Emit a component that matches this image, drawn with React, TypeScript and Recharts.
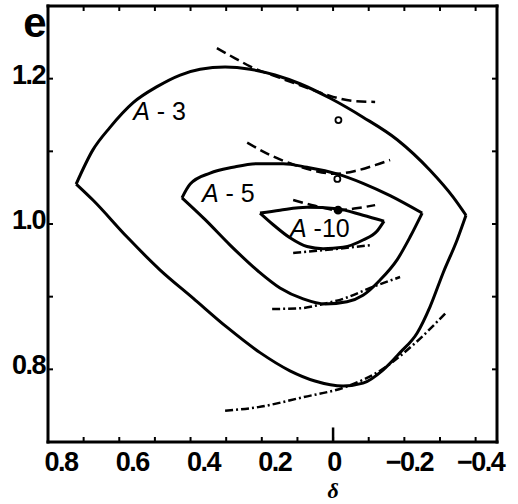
import { ComposedChart, Line, Scatter, XAxis, YAxis, ReferenceLine, Label } from 'recharts'

type Pt = [number, number]

// axis ranges and ticks (delta runs right-to-left)
const xMin = -0.46
const xMax = 0.8
const yMin = 0.7
const yMax = 1.3
const xTicks = [0.8, 0.7, 0.6, 0.5, 0.4, 0.3, 0.2, 0.1, 0, -0.1, -0.2, -0.3, -0.4]
const xLabels = [0.8, 0.6, 0.4, 0.2, 0, -0.2, -0.4]
const yTicks = [0.8, 0.9, 1.0, 1.1, 1.2]
const yLabels = [0.8, 1.0, 1.2]

// closed contours, split into upper and lower arcs: [delta, e]
const a3Upper: Pt[] = [
  [0.721, 1.055], [0.674, 1.102], [0.626, 1.133], [0.561, 1.167], [0.494, 1.189],
  [0.429, 1.205], [0.373, 1.213], [0.303, 1.216], [0.233, 1.213], [0.163, 1.205],
  [0.093, 1.193], [0.008, 1.173], [-0.084, 1.147], [-0.18, 1.116], [-0.272, 1.074],
  [-0.337, 1.037], [-0.373, 1.012],
]
const a3Lower: Pt[] = [
  [0.721, 1.055], [0.674, 1.033], [0.578, 0.982], [0.486, 0.937], [0.393, 0.898],
  [0.298, 0.858], [0.205, 0.823], [0.121, 0.798], [0.051, 0.784], [-0.028, 0.777],
  [-0.084, 0.781], [-0.14, 0.799], [-0.188, 0.823], [-0.236, 0.85], [-0.272, 0.886],
  [-0.309, 0.933], [-0.348, 0.978], [-0.373, 1.012],
]
const a5Upper: Pt[] = [
  [0.424, 1.036], [0.401, 1.055], [0.345, 1.07], [0.281, 1.078], [0.213, 1.083],
  [0.14, 1.083], [0.073, 1.078], [-0.011, 1.069], [-0.084, 1.056], [-0.16, 1.039],
  [-0.25, 1.015],
]
const a5Lower: Pt[] = [
  [0.424, 1.036], [0.359, 1.006], [0.289, 0.971], [0.21, 0.935], [0.149, 0.912],
  [0.084, 0.897], [0.022, 0.89], [-0.039, 0.893], [-0.084, 0.902], [-0.132, 0.923],
  [-0.18, 0.951], [-0.216, 0.982], [-0.25, 1.015],
]
const a10Upper: Pt[] = [
  [0.205, 1.015], [0.149, 1.019], [0.073, 1.023], [-0.011, 1.021], [-0.084, 1.012],
  [-0.143, 1.004],
]
const a10Lower: Pt[] = [
  [0.205, 1.015], [0.168, 0.999], [0.121, 0.981], [0.073, 0.969], [0.028, 0.966],
  [-0.028, 0.968], [-0.084, 0.978], [-0.123, 0.99], [-0.143, 1.004],
]

// tangent arcs (dashed / dash-dotted)
const arcTop3: Pt[] = [
  [0.326, 1.242], [0.275, 1.228], [0.233, 1.217], [0.149, 1.201], [0.065, 1.186],
  [0.0, 1.175], [-0.062, 1.169], [-0.118, 1.168],
]
const arcTop5: Pt[] = [
  [0.241, 1.112], [0.177, 1.095], [0.107, 1.081], [0.051, 1.073], [-0.006, 1.069],
  [-0.062, 1.073], [-0.118, 1.081], [-0.16, 1.088],
]
const arcTop10: Pt[] = [
  [0.112, 1.033], [0.051, 1.025], [-0.014, 1.019], [-0.07, 1.022], [-0.118, 1.026],
]
const arcBot10: Pt[] = [
  [0.112, 0.96], [0.028, 0.964], [-0.034, 0.967], [-0.109, 0.971],
]
const arcBot5: Pt[] = [
  [0.171, 0.883], [0.093, 0.884], [0.036, 0.889], [-0.034, 0.898], [-0.104, 0.912],
  [-0.188, 0.927],
]
const arcBot3: Pt[] = [
  [0.303, 0.743], [0.21, 0.748], [0.09, 0.761], [-0.042, 0.777], [-0.135, 0.799],
  [-0.23, 0.836], [-0.317, 0.878],
]

const markerPts = [
  { d: -0.015, e: 1.143, filled: false },
  { d: -0.012, e: 1.062, filled: false },
  { d: -0.014, e: 1.019, filled: true },
]

const curveLabels = [
  { d: 0.561, e: 1.143, num: ' - 3' },
  { d: 0.368, e: 1.03, num: ' - 5' },
  { d: 0.121, e: 0.982, num: ' -10' },
]

const rows = (pts: Pt[]) => pts.map(([d, e]) => ({ d, e }))

const solid = [a3Upper, a3Lower, a5Upper, a5Lower, a10Upper, a10Lower]
const dashed = [arcTop3, arcTop5, arcTop10]
const dashDot = [arcBot10, arcBot5, arcBot3]

const numFont = '"Liberation Sans", Arial, sans-serif'

const fmt = (v: number) => (v === 0 ? '0' : (v < 0 ? '\u2212' : '') + Math.abs(v).toFixed(1))

const XTick = (props: any) => {
  const { x, y, payload } = props
  const v = payload.value
  if (!xLabels.includes(v)) return <g />
  const shift = v > 0 ? 13 : v < 0 ? 5 : 1
  return (
    <text x={x + shift} y={y} dy={29} textAnchor="middle" fontFamily={numFont} fontSize={27}
      fontWeight="bold" letterSpacing={-1.5} fill="#000">
      {fmt(v)}
    </text>
  )
}

const YTick = (props: any) => {
  const { x, y, payload } = props
  const v = payload.value
  if (!yLabels.includes(v)) return <g />
  return (
    <text x={x} y={y} dy={5} textAnchor="end" fontFamily={numFont} fontSize={27}
      fontWeight="bold" letterSpacing={-1.5} fill="#000">
      {fmt(v)}
    </text>
  )
}

const Empty = () => <g />

const axisLine = { stroke: '#000', strokeWidth: 3, strokeLinecap: 'square' as const }
const tickLine = { stroke: '#000', strokeWidth: 2 }

export default function App() {
  return (
    <div style={{ position: 'absolute', left: 0, top: 0, background: '#fff' }}>
      <ComposedChart width={518} height={504} margin={{ top: 0, right: 0, bottom: 0, left: 0 }}>
        <XAxis xAxisId="b" type="number" dataKey="d" domain={[xMin, xMax]} reversed allowDataOverflow
          ticks={xTicks} interval={0} height={62} tickSize={-5} tickMargin={5}
          axisLine={axisLine} tickLine={tickLine} tick={<XTick />}>
          <Label content={({ viewBox }: any) => (
            <text x={viewBox.x + (viewBox.width * xMax) / (xMax - xMin)} y={viewBox.y + 56}
              textAnchor="middle" fontFamily='"Liberation Serif", serif' fontStyle="italic"
              fontWeight="bold" fontSize={22} fill="#000">δ</text>
          )} />
        </XAxis>
        <XAxis xAxisId="t" orientation="top" type="number" dataKey="d" domain={[xMin, xMax]} reversed
          allowDataOverflow ticks={xTicks} interval={0} height={6} tickSize={-5}
          axisLine={axisLine} tickLine={tickLine} tick={<Empty />} />
        <YAxis yAxisId="l" type="number" domain={[yMin, yMax]} allowDataOverflow ticks={yTicks}
          interval={0} width={48} tickSize={-5} tickMargin={8}
          axisLine={axisLine} tickLine={tickLine} tick={<YTick />}>
          <Label content={({ viewBox }: any) => (
            <text x={viewBox.x + 35} y={viewBox.y + 31} textAnchor="middle" fontFamily={numFont}
              fontWeight="bold" fontSize={42} fill="#000">e</text>
          )} />
        </YAxis>
        <YAxis yAxisId="r" orientation="right" type="number" domain={[yMin, yMax]} allowDataOverflow
          ticks={yTicks} interval={0} width={21} tickSize={-5}
          axisLine={axisLine} tickLine={tickLine} tick={<Empty />} />

        <ReferenceLine xAxisId="b" yAxisId="l" segment={[{ x: 0, y: yMin }, { x: 0, y: 0.72 }]}
          stroke="#000" strokeWidth={2.5} />

        {solid.map((pts, i) => (
          <Line key={'s' + i} xAxisId="b" yAxisId="l" data={rows(pts)} dataKey="e" type="monotoneX"
            stroke="#000" strokeWidth={3} dot={false} isAnimationActive={false} />
        ))}
        {dashed.map((pts, i) => (
          <Line key={'d' + i} xAxisId="b" yAxisId="l" data={rows(pts)} dataKey="e" type="monotoneX"
            stroke="#000" strokeWidth={2.5} strokeDasharray="10 5" dot={false} isAnimationActive={false} />
        ))}
        {dashDot.map((pts, i) => (
          <Line key={'dd' + i} xAxisId="b" yAxisId="l" data={rows(pts)} dataKey="e" type="monotoneX"
            stroke="#000" strokeWidth={2.5} strokeDasharray="8 3 2 3" dot={false} isAnimationActive={false} />
        ))}

        <Scatter xAxisId="b" yAxisId="l" data={markerPts} dataKey="e" isAnimationActive={false}
          shape={(p: any) => (
            <circle cx={p.cx} cy={p.cy} r={p.payload.filled ? 3.5 : 3}
              fill={p.payload.filled ? '#000' : '#fff'} stroke="#000" strokeWidth={1.8} />
          )} />
        <Scatter xAxisId="b" yAxisId="l" data={curveLabels} dataKey="e" isAnimationActive={false}
          shape={(p: any) => (
            <text x={p.cx} y={p.cy} fontFamily={numFont} fontSize={25} fill="#000">
              <tspan fontStyle="italic">A</tspan>
              <tspan>{p.payload.num}</tspan>
            </text>
          )} />
      </ComposedChart>
    </div>
  )
}
